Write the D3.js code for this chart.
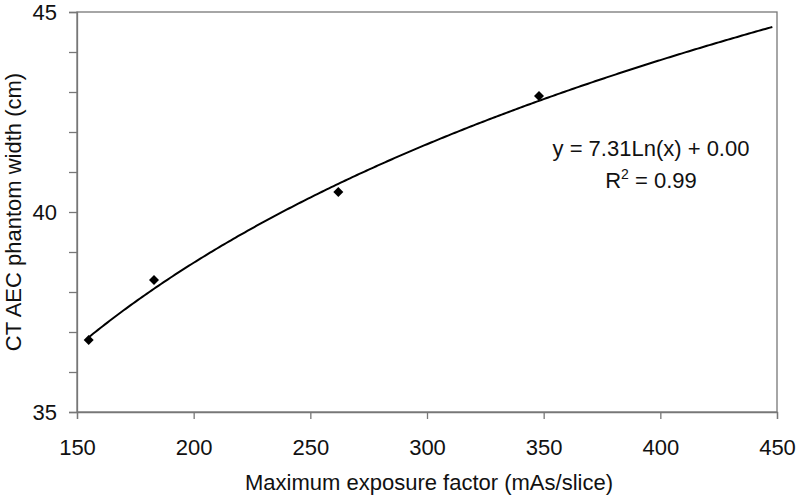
<!DOCTYPE html>
<html>
<head>
<meta charset="utf-8">
<script src="https://cdn.jsdelivr.net/npm/d3@7"></script>
<style>
  html, body { margin: 0; padding: 0; background: #fff; }
  svg { display: block; font-family: "Liberation Sans", Arial, sans-serif; }
</style>
</head>
<body>
<svg id="chart" width="797" height="498"></svg>
<script>
// ---- data ----
const exposure = [155, 183, 262, 348];          // mAs/slice
const phantomWidth = [36.8, 38.3, 40.5, 42.9];  // cm
const xTicks = [150, 200, 250, 300, 350, 400, 450];
const yTicks = [35, 40, 45];
const yMinorTicks = [35, 36, 37, 38, 39, 40, 41, 42, 43, 44, 45];
const trendCoef = 7.31, trendIntercept = 0.00;
const trendRange = [155, 448];
const equationText = "y = 7.31Ln(x) + 0.00";
const r2Text = "0.99";

// ---- layout ----
const W = 797, H = 498;
const margin = { top: 12, right: 20, bottom: 86, left: 77 };
const FS = 22;
const svg = d3.select("#chart");
const x = d3.scaleLinear().domain([150, 450]).range([margin.left, W - margin.right]);
const y = d3.scaleLinear().domain([35, 45]).range([H - margin.bottom, margin.top]);
const axisColor = "#777";

// plot border (top and right)
svg.append("rect")
  .attr("x", x(150)).attr("y", y(45))
  .attr("width", x(450) - x(150)).attr("height", y(35) - y(45))
  .attr("fill", "none").attr("stroke", axisColor).attr("stroke-width", 1.3);

// x axis
const xAxis = svg.append("g")
  .attr("transform", `translate(0,${y(35)})`)
  .call(d3.axisBottom(x).tickValues(xTicks).tickSize(7).tickPadding(20).tickFormat(d3.format("d")));
xAxis.select(".domain").attr("stroke", axisColor).attr("stroke-width", 1.3);
xAxis.selectAll(".tick line").attr("stroke", axisColor).attr("stroke-width", 1.3);
xAxis.selectAll(".tick text").attr("font-size", FS).attr("fill", "#111")
  .attr("font-family", "Liberation Sans, Arial, sans-serif");

// y axis minor ticks
const yAxisMinor = svg.append("g")
  .attr("transform", `translate(${x(150)},0)`)
  .call(d3.axisLeft(y).tickValues(yMinorTicks).tickSize(8).tickFormat(""));
yAxisMinor.select(".domain").attr("stroke", axisColor).attr("stroke-width", 1.3);
yAxisMinor.selectAll(".tick line").attr("stroke", axisColor).attr("stroke-width", 1.3);

// y axis labels
const yAxis = svg.append("g")
  .attr("transform", `translate(${x(150)},0)`)
  .call(d3.axisLeft(y).tickValues(yTicks).tickSize(0).tickPadding(20).tickFormat(d3.format("d")));
yAxis.select(".domain").remove();
yAxis.selectAll(".tick text").attr("font-size", FS).attr("fill", "#111")
  .attr("font-family", "Liberation Sans, Arial, sans-serif");

// trend line
const trendPts = d3.range(trendRange[0], trendRange[1] + 0.5, 1).map(v => [v, trendCoef * Math.log(v) + trendIntercept]);
svg.append("path")
  .datum(trendPts)
  .attr("d", d3.line().x(d => x(d[0])).y(d => y(d[1])))
  .attr("fill", "none").attr("stroke", "#000").attr("stroke-width", 2);

// markers (diamonds)
svg.append("g").selectAll("path")
  .data(exposure.map((v, i) => [v, phantomWidth[i]]))
  .join("path")
  .attr("transform", d => `translate(${x(d[0])},${y(d[1])})`)
  .attr("d", "M0,-5L5,0L0,5L-5,0Z")
  .attr("fill", "#000");

// equation text
svg.append("text")
  .attr("x", 651).attr("y", 156)
  .attr("text-anchor", "middle").attr("font-size", FS).attr("fill", "#111")
  .text(equationText);
const r2 = svg.append("text")
  .attr("x", 651).attr("y", 188)
  .attr("text-anchor", "middle").attr("font-size", FS).attr("fill", "#111");
r2.append("tspan").text("R");
r2.append("tspan").attr("dy", -9).attr("font-size", 14).text("2");
r2.append("tspan").attr("dy", 9).text(" = " + r2Text);

// axis titles
svg.append("text")
  .attr("x", (x(150) + x(450)) / 2 + 2).attr("y", 490)
  .attr("text-anchor", "middle").attr("font-size", FS).attr("fill", "#111")
  .text("Maximum exposure factor (mAs/slice)");
svg.append("text")
  .attr("transform", `translate(21,${(y(35) + y(45)) / 2}) rotate(-90)`)
  .attr("text-anchor", "middle").attr("font-size", FS).attr("fill", "#111")
  .text("CT AEC phantom width (cm)");
</script>
</body>
</html>
